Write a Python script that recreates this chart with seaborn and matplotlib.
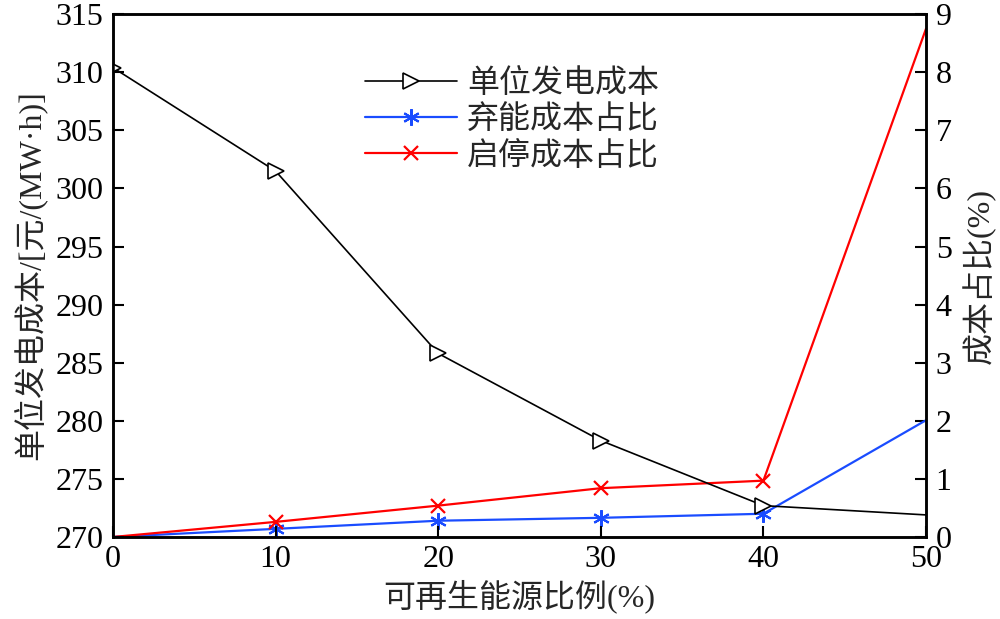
import matplotlib
matplotlib.use("Agg")
import matplotlib.pyplot as plt
import seaborn as sns
import pandas as pd

# Data
ratio = [0, 10, 20, 30, 40, 50]
unit_cost = [310.4, 301.5, 285.8, 278.3, 272.7, 271.9]
curtail_share = [0.0, 0.14, 0.28, 0.33, 0.40, 2.01]
startstop_share = [0.0, 0.26, 0.54, 0.84, 0.97, 8.75]
labels = ["单位发电成本", "弃能成本占比", "启停成本占比"]
x_label = "可再生能源比例(%)"
yl_label = "单位发电成本/[元/(MW·h)]"
yr_label = "成本占比(%)"

sns.set_theme(style="ticks")
plt.rcParams['font.family'] = ['Liberation Serif', 'Noto Sans CJK SC', 'DejaVu Sans']
plt.rcParams['axes.unicode_minus'] = False

FS = 23

fig = plt.figure(figsize=(10, 6.19), dpi=100)
ax = fig.add_axes([0.113, 0.1325, 0.813, 0.8445])
ax2 = ax.twinx()

df = pd.DataFrame({"x": ratio, "c": unit_cost, "b": curtail_share, "r": startstop_share})
mk = [1, 2, 3, 4]

sns.lineplot(data=df, x="x", y="c", ax=ax, color="black", lw=1.2, marker=">",
             markersize=12, markerfacecolor="white", markeredgecolor="black",
             markeredgewidth=1.2, markevery=[0, 1, 2, 3, 4], label=labels[0], legend=False)
sns.lineplot(data=df, x="x", y="b", ax=ax2, color="#1a4cff", lw=1.6, marker=(6, 2, 0),
             markersize=12, markeredgecolor="#1a4cff",
             markeredgewidth=1.5, markevery=mk, label=labels[1], legend=False)
sns.lineplot(data=df, x="x", y="r", ax=ax2, color="#ff0000", lw=1.6, marker="x",
             markersize=10, markeredgecolor="#ff0000", markeredgewidth=1.6,
             markevery=mk, label=labels[2], legend=False)

ax.set_xlim(0, 50)
ax.set_ylim(270, 315)
ax2.set_ylim(0, 9)
ax.set_xticks(ratio)
ax.set_yticks(range(270, 316, 5))
ax2.set_yticks(range(0, 10))

for a in (ax, ax2):
    a.tick_params(direction="in", length=8, width=1.5, labelsize=FS, colors="black")
    for s in a.spines.values():
        s.set_linewidth(1.8)
        s.set_color("black")
ax.tick_params(axis="x", pad=6)
ax.tick_params(axis="y", pad=7)
ax2.tick_params(axis="y", pad=7)

ax.set_xlabel(x_label, fontsize=FS, labelpad=4)
ax.set_ylabel(yl_label, fontsize=FS, labelpad=6)
ax2.set_ylabel(yr_label, fontsize=FS, labelpad=8)

h1, l1 = ax.get_legend_handles_labels()
h2, l2 = ax2.get_legend_handles_labels()
leg = ax.legend(h1 + h2, l1 + l2, loc="upper left", bbox_to_anchor=(0.294, 0.92),
                frameon=False, fontsize=FS, handlelength=2.9, handletextpad=0.3,
                labelspacing=0.2, borderaxespad=0)
ax.set_zorder(ax2.get_zorder() + 1)
ax.patch.set_visible(False)

fig.savefig("out.png", dpi=100)
